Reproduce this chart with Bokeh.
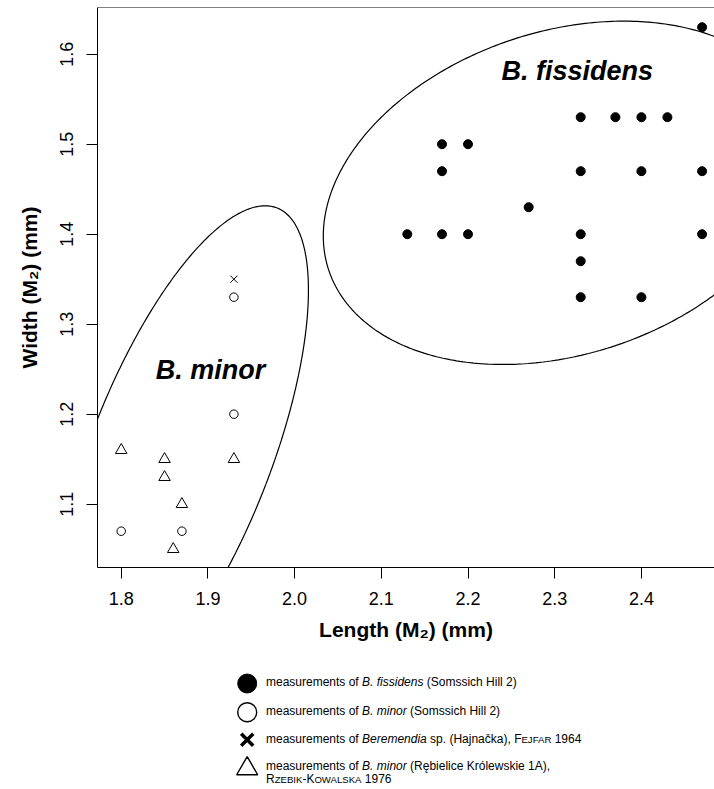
import numpy as np
from bokeh.plotting import figure
from bokeh.models import Range1d, FixedTicker, Span, Div, Spacer, Label
from bokeh.layouts import column, row
from bokeh.embed import file_html
from bokeh.resources import INLINE

# ---------------- data ----------------
fis_len = [2.33, 2.37, 2.40, 2.43, 2.17, 2.20, 2.17, 2.33, 2.40, 2.47,
           2.27, 2.13, 2.17, 2.20, 2.33, 2.47, 2.33, 2.33, 2.40, 2.47]
fis_wid = [1.53, 1.53, 1.53, 1.53, 1.50, 1.50, 1.47, 1.47, 1.47, 1.47,
           1.43, 1.40, 1.40, 1.40, 1.40, 1.40, 1.37, 1.33, 1.33, 1.63]
minor_len = [1.93, 1.93, 1.80, 1.87]
minor_wid = [1.33, 1.20, 1.07, 1.07]
ber_len = [1.93]
ber_wid = [1.35]
rk_len = [1.80, 1.85, 1.85, 1.87, 1.86, 1.93]
rk_wid = [1.16, 1.15, 1.13, 1.10, 1.05, 1.15]

x_ticks = [1.8, 1.9, 2.0, 2.1, 2.2, 2.3, 2.4]
x_tick_labels = ["1.8", "1.9", "2.0", "2.1", "2.2", "2.3", "2.4"]
y_ticks = [1.1, 1.2, 1.3, 1.4, 1.5, 1.6]
y_tick_labels = ["1.1", "1.2", "1.3", "1.4", "1.5", "1.6"]

# ellipses: centre, semi-axes, rotation (degrees, data space)
fis_ellipse = dict(cx=2.310, cy=1.446, a=0.284, b=0.180, angle=16.7)
min_ellipse = dict(cx=1.868, cy=1.154, a=0.297, b=0.1036, angle=67.7)

group_names = ["B. fissidens", "B. minor"]
group_x = [2.326, 1.903]
group_y = [1.581, 1.249]

SC = '<span style="font-size:0.8em">'
legend_texts = [
    'measurements of <i>B. fissidens</i> (Somssich Hill 2)',
    'measurements of <i>B. minor</i> (Somssich Hill 2)',
    f'measurements of <i>Beremendia</i> sp. (Hajna\u010dka), F{SC}EJFAR</span> 1964',
    f'measurements of <i>B. minor</i> (R\u0119bielice Kr\u00f3lewskie 1A),<br>R{SC}ZEBIK</span>-K{SC}OWALSKA</span> 1976',
]

FONT = "Liberation Sans"


def ellipse_outline(cx, cy, a, b, angle, n=400):
    t = np.linspace(0, 2 * np.pi, n)
    th = np.radians(angle)
    x = cx + a * np.cos(t) * np.cos(th) - b * np.sin(t) * np.sin(th)
    y = cy + a * np.cos(t) * np.sin(th) + b * np.sin(t) * np.cos(th)
    return x, y


# ---------------- main plot ----------------
p = figure(width=714, height=660,
           x_range=Range1d(1.77266, 2.48431), y_range=Range1d(1.02967, 1.65189),
           output_backend="svg", toolbar_location=None,
           min_border_left=97, min_border_right=0, min_border_top=7, min_border_bottom=93)
p.outline_line_color = None
p.grid.visible = False
p.background_fill_color = "white"
p.border_fill_color = "white"

for ax in (p.xaxis[0], p.yaxis[0]):
    ax.axis_line_color = "black"
    ax.axis_line_width = 1
    ax.major_tick_line_color = "black"
    ax.major_tick_out = 11
    ax.major_tick_in = 0
    ax.minor_tick_line_color = None
    ax.major_label_text_font = FONT
    ax.major_label_text_font_size = "18px"
    ax.major_label_text_color = "black"
    ax.axis_label_text_font = FONT
    ax.axis_label_text_font_style = "bold"
    ax.axis_label_text_font_size = "21px"
    ax.axis_label_text_color = "black"

p.xaxis.ticker = FixedTicker(ticks=x_ticks)
p.xaxis.major_label_overrides = dict(zip(x_ticks, x_tick_labels))
p.yaxis.ticker = FixedTicker(ticks=y_ticks)
p.yaxis.major_label_overrides = dict(zip(y_ticks, y_tick_labels))
p.yaxis.major_label_orientation = "vertical"
p.xaxis.major_label_standoff = 13
p.yaxis.major_label_standoff = 13
p.xaxis.axis_label_standoff = 10
p.yaxis.axis_label_standoff = 17
p.xaxis.axis_label = "Length (M\u2082) (mm)"
p.yaxis.axis_label = "Width (M\u2082) (mm)"

p.add_layout(Span(location=p.y_range.end, dimension="width", line_color="black", line_width=1))

for e in (fis_ellipse, min_ellipse):
    ex, ey = ellipse_outline(**e)
    p.line(ex, ey, line_color="black", line_width=1.2)

p.scatter(fis_len, fis_wid, marker="circle", size=9, fill_color="black", line_color="black")
p.scatter(minor_len, minor_wid, marker="circle", size=8.5, fill_color=None, line_color="black", line_width=1)
p.scatter(ber_len, ber_wid, marker="x", size=10, line_color="black", line_width=1)
p.scatter(rk_len, rk_wid, marker="triangle", size=11.5, fill_color=None, line_color="black", line_width=1)

for name, gx, gy in zip(group_names, group_x, group_y):
    p.add_layout(Label(x=gx, y=gy, text=name, text_font=FONT, text_font_style="bold italic",
                       text_font_size="27px", text_align="center", text_baseline="middle",
                       text_color="black"))

# ---------------- legend ----------------
LEG_H = 129
row_y = [23, 51.7, 79.3, 106.7]
leg = figure(width=30, height=LEG_H, x_range=Range1d(0, 30), y_range=Range1d(LEG_H, 0),
             output_backend="svg", toolbar_location=None, min_border=0,
             x_axis_location=None, y_axis_location=None)
leg.outline_line_color = None
leg.grid.visible = False
leg.scatter([14.7], [row_y[0]], marker="circle", size=19, fill_color="black", line_color="black")
leg.scatter([14.7], [row_y[1]], marker="circle", size=19, fill_color=None, line_color="black", line_width=1.4)
leg.scatter([14.7], [row_y[2]], marker="x", size=17, line_color="black", line_width=3.5)
leg.scatter([14.7], [row_y[3] + 1.5], marker="triangle", size=21, fill_color=None, line_color="black", line_width=1.4)

items = []
for txt, ry in zip(legend_texts, row_y):
    items.append(f'<div style="position:absolute;left:0;top:{ry - 6.65:.1f}px;white-space:nowrap;">{txt}</div>')
legend_html = (f'<div style="position:relative;width:440px;height:{LEG_H}px;'
               f"font-family:'{FONT}',Arial,sans-serif;font-size:12px;line-height:13.3px;color:#000;\">"
               + "".join(items) + "</div>")
div = Div(text=legend_html, width=440, height=LEG_H, margin=0)

layout = column(p, row(Spacer(width=232, height=LEG_H, margin=0), leg,
                       Spacer(width=4, height=LEG_H, margin=0), div, margin=0),
                margin=0)

open("out.html", "w").write(file_html(layout, INLINE))
